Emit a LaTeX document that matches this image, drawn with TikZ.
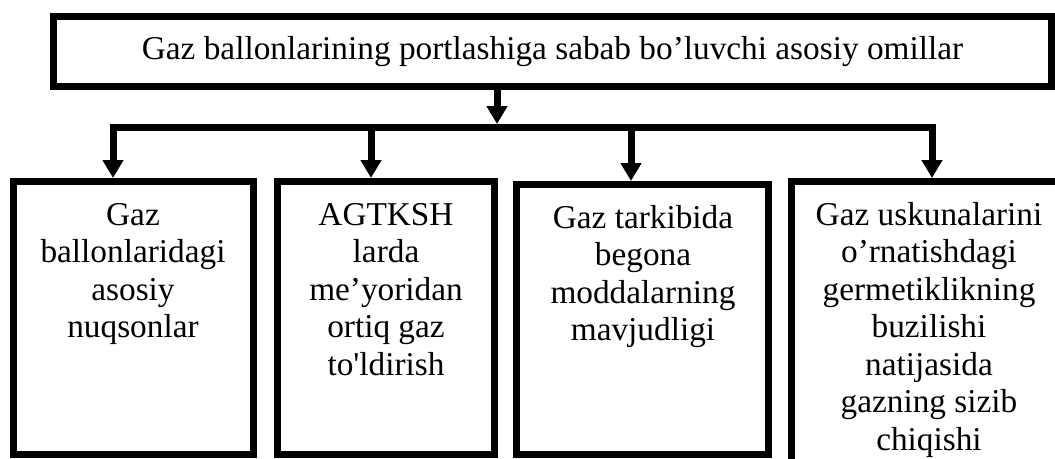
\documentclass[tikz,border=0pt]{standalone}
\usepackage{fontspec}
\setmainfont{Liberation Serif}[Ligatures=TeXOff]
\usetikzlibrary{arrows.meta}
\tikzset{
  thickline/.style={line width=7pt, draw=black},
  mainbox/.style={thickline, rectangle, inner sep=0pt, fill=white},
  arr/.style={thickline, -{Triangle[width=20pt,length=18pt]}},
  boxtext/.style={inner sep=0pt, align=center, anchor=north,
    font=\fontsize{33.3}{37.5}\selectfont},
}
\newcommand\firstl{\rule{0pt}{26pt}}
\begin{document}
\begin{tikzpicture}[x=1pt,y=-1pt]
\path[fill=white] (0,0) rectangle (1055,458);
\useasboundingbox (0,0) rectangle (1055,458);

% top box
\node[mainbox, minimum width=998pt, minimum height=69.5pt,
  font=\fontsize{33.3}{37.5}\selectfont] (top) at (552.5,51.25)
  {Gaz ballonlarining portlashiga sabab bo’luvchi asosiy omillar};

% child boxes
\node[mainbox, minimum width=240.5pt, minimum height=273pt] (b1) at (133.25,318) {};
\node[mainbox, minimum width=217pt, minimum height=273pt] (b2) at (386,318) {};
\node[mainbox, minimum width=251.5pt, minimum height=270pt] (b3) at (642.25,319.5) {};
\node[mainbox, minimum width=275pt, minimum height=298.5pt] (b4) at (929,330.75) {};

% texts
\node[boxtext] (t1) at (133,199) {\firstl Gaz\\ballonlaridagi\\asosiy\\nuqsonlar};
\node[boxtext] (t2) at (386,199) {\firstl AGTKSH\\larda\\me’yoridan\\ortiq gaz\\to'ldirish};
\node[boxtext] (t3) at (643,202) {\firstl Gaz tarkibida\\begona\\moddalarning\\mavjudligi};
\node[boxtext] (t4) at (929,199) {\firstl Gaz uskunalarini\\o’rnatishdagi\\germetiklikning\\buzilishi\\natijasida\\gazning sizib\\chiqishi};

% connectors
\coordinate (hm) at (497,124);
\coordinate (h1) at (113,127.5);
\coordinate (h2) at (371,127.5);
\coordinate (h3) at (631,127.5);
\coordinate (h4) at (932,127.5);
\draw[arr] (top.south -| hm) -- (hm);
\draw[thickline, line cap=rect] (h1) -- (h4);
\draw[arr] (h1) -- (h1 |- b1.north);
\draw[arr] (h2) -- (h2 |- b2.north);
\draw[arr] (h3) -- (h3 |- b3.north);
\draw[arr] (h4) -- (h4 |- b4.north);
\end{tikzpicture}
\end{document}
